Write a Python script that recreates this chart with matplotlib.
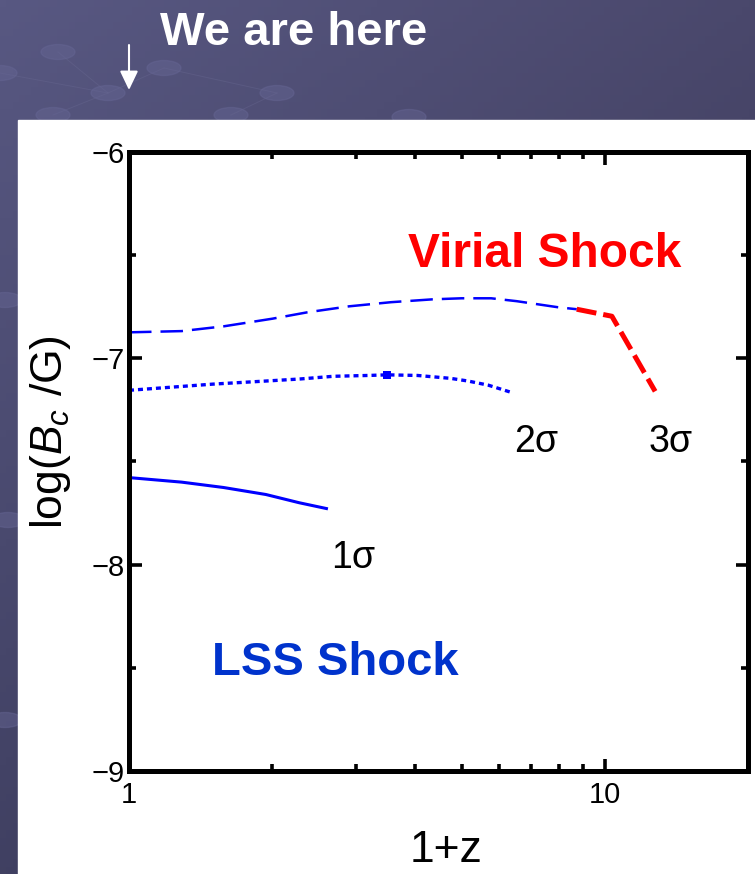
import numpy as np
import matplotlib
matplotlib.use('Agg')
import matplotlib.pyplot as plt
from matplotlib.patches import Rectangle, Ellipse
from matplotlib.ticker import FixedLocator, FuncFormatter, NullFormatter

plt.rcParams['font.family'] = ['Liberation Sans', 'DejaVu Sans']
plt.rcParams['mathtext.fontset'] = 'custom'
plt.rcParams['mathtext.rm'] = 'Liberation Sans'
plt.rcParams['mathtext.it'] = 'Liberation Sans:italic'
plt.rcParams['axes.unicode_minus'] = True

# ---------------- data ----------------
# 3 sigma curve: blue dashed part (LSS shock) and red dashed part (virial shock)
opz_3s_blue = [1.0, 1.29, 1.58, 2.0, 2.37, 2.9, 3.55, 4.35, 5.0, 5.77, 6.53, 7.95, 8.73]
logB_3s_blue = [-6.874, -6.868, -6.845, -6.808, -6.777, -6.748, -6.728, -6.714,
                -6.709, -6.709, -6.723, -6.752, -6.762]
opz_3s_red = [8.73, 10.35, 12.76]
logB_3s_red = [-6.762, -6.796, -7.16]
# 2 sigma curve (dotted)
opz_2s = [1.0, 1.5, 1.94, 2.29, 2.69, 3.18, 3.49, 4.04, 4.74, 5.16, 5.69, 6.36]
logB_2s = [-7.155, -7.125, -7.11, -7.10, -7.087, -7.083, -7.08, -7.083, -7.097,
           -7.11, -7.13, -7.165]
# 1 sigma curve (solid)
opz_1s = [1.0, 1.29, 1.58, 1.94, 2.28, 2.6]
logB_1s = [-7.578, -7.60, -7.626, -7.66, -7.70, -7.728]

x_major = [1, 10]
x_major_labels = ['1', '10']
x_minor = [2, 3, 4, 5, 6, 7, 8, 9]
y_major = [-9, -8, -7, -6]
y_minor = [-8.5, -7.5, -6.5]

# ---------------- figure ----------------
W, H = 755, 874
fig = plt.figure(figsize=(W / 100, H / 100), dpi=100)

# slide background (pixel coordinates, origin top-left)
bg = fig.add_axes([0, 0, 1, 1])
bg.set_axis_off()
bg.set_xlim(0, W)
bg.set_ylim(H, 0)
ny, nx = 120, 120
yy, xx = np.mgrid[0:1:ny * 1j, 0:1:nx * 1j]
c0 = np.array([88, 88, 130]) / 255.0
cx = np.array([-14, -16, -22]) / 255.0
cy = np.array([-24, -24, -32]) / 255.0
img = c0[None, None, :] + xx[..., None] * cx[None, None, :] + yy[..., None] * cy[None, None, :]
bg.imshow(np.clip(img, 0, 1), extent=(0, W, H, 0), aspect='auto', zorder=0)

# faint network decoration
nodes = [(58, 52), (164, 68), (108, 93), (277, 93), (0, 73), (53, 115), (231, 115),
         (409, 117), (5, 300), (8, 520), (5, 720)]
links = [(0, 2), (1, 2), (2, 4), (2, 5), (3, 6), (1, 3)]
for a, b in links:
    bg.plot([nodes[a][0], nodes[b][0]], [nodes[a][1], nodes[b][1]],
            color=(0.42, 0.42, 0.58), lw=0.7, alpha=0.35, zorder=1)
for (nxp, nyp) in nodes:
    bg.add_patch(Ellipse((nxp, nyp), 34, 15, color=(0.40, 0.40, 0.58), alpha=0.45, zorder=1))

# white panel
bg.add_patch(Rectangle((18, 120), W - 18, H - 120, color='white', zorder=2))

bg.text(160, 45, 'We are here', color='white', fontsize=34, fontweight='bold',
        ha='left', va='baseline', zorder=3)
bg.annotate('', xy=(129, 90), xytext=(129, 45),
            arrowprops=dict(arrowstyle='-|>,head_length=0.46,head_width=0.22',
                            color='white', lw=1.5, mutation_scale=25,
                            shrinkA=0, shrinkB=0), zorder=3)

# main plot axes
ax = fig.add_axes([129 / W, (H - 771) / H, 619 / W, 619 / H])
ax.set_facecolor('none')
ax.set_xscale('log')
ax.set_xlim(1, 20)
ax.set_ylim(-9, -6)

ax.plot(opz_3s_blue, logB_3s_blue, color='#0000ff', lw=1.8, dashes=(9, 3.6))
ax.plot(opz_3s_red, logB_3s_red, color='#ff0000', lw=3.6, dashes=(4, 1.4))
ax.plot(opz_2s, logB_2s, color='#0000ff', lw=2.4, dashes=(1.5, 1.2),
        dash_capstyle='butt')
ipk = int(np.argmax(logB_2s))
ax.plot([opz_2s[ipk]], [logB_2s[ipk]], 's', color='#0000ff', ms=6, mew=0)
ax.plot(opz_1s, logB_1s, color='#0000ff', lw=2.2)

ax.text(2.66, -8.015, '1σ', fontsize=27, ha='left', va='baseline')
ax.text(6.46, -7.456, '2σ', fontsize=27, ha='left', va='baseline')
ax.text(12.38, -7.456, '3σ', fontsize=27, ha='left', va='baseline')
ax.text(3.86, -6.558, 'Virial Shock', fontsize=34.5, fontweight='bold',
        color='#ff0000', ha='left', va='baseline')
ax.text(1.497, -8.534, 'LSS Shock', fontsize=34, fontweight='bold',
        color='#0033cc', ha='left', va='baseline')

ax.xaxis.set_major_locator(FixedLocator(x_major))
ax.xaxis.set_major_formatter(FuncFormatter(lambda v, p: x_major_labels[x_major.index(round(v))]
                                           if round(v) in x_major else ''))
ax.xaxis.set_minor_locator(FixedLocator(x_minor))
ax.xaxis.set_minor_formatter(NullFormatter())
ax.yaxis.set_major_locator(FixedLocator(y_major))
ax.yaxis.set_major_formatter(FuncFormatter(lambda v, p: f'{v:.0f}'.replace('-', '\u2212')))
ax.yaxis.set_minor_locator(FixedLocator(y_minor))
ax.yaxis.set_minor_formatter(NullFormatter())

ax.tick_params(which='both', direction='in', top=True, right=True, width=2.6,
               colors='black')
ax.tick_params(which='major', length=9)
ax.tick_params(which='minor', length=5)
ax.tick_params(axis='x', which='major', pad=7, labelsize=21)
ax.tick_params(axis='y', which='major', pad=3, labelsize=21)
for s in ax.spines.values():
    s.set_linewidth(3.6)

ax.set_xlabel('1+z', fontsize=32, va='baseline')
ax.xaxis.set_label_coords(0.512, (771 - 862) / 619)
ax.set_ylabel(r'log($B_c$ /G)', fontsize=32, va='baseline')
ax.yaxis.set_label_coords((62 - 129) / 619, (771 - 432) / 619)

fig.savefig('out.png', dpi=100)
